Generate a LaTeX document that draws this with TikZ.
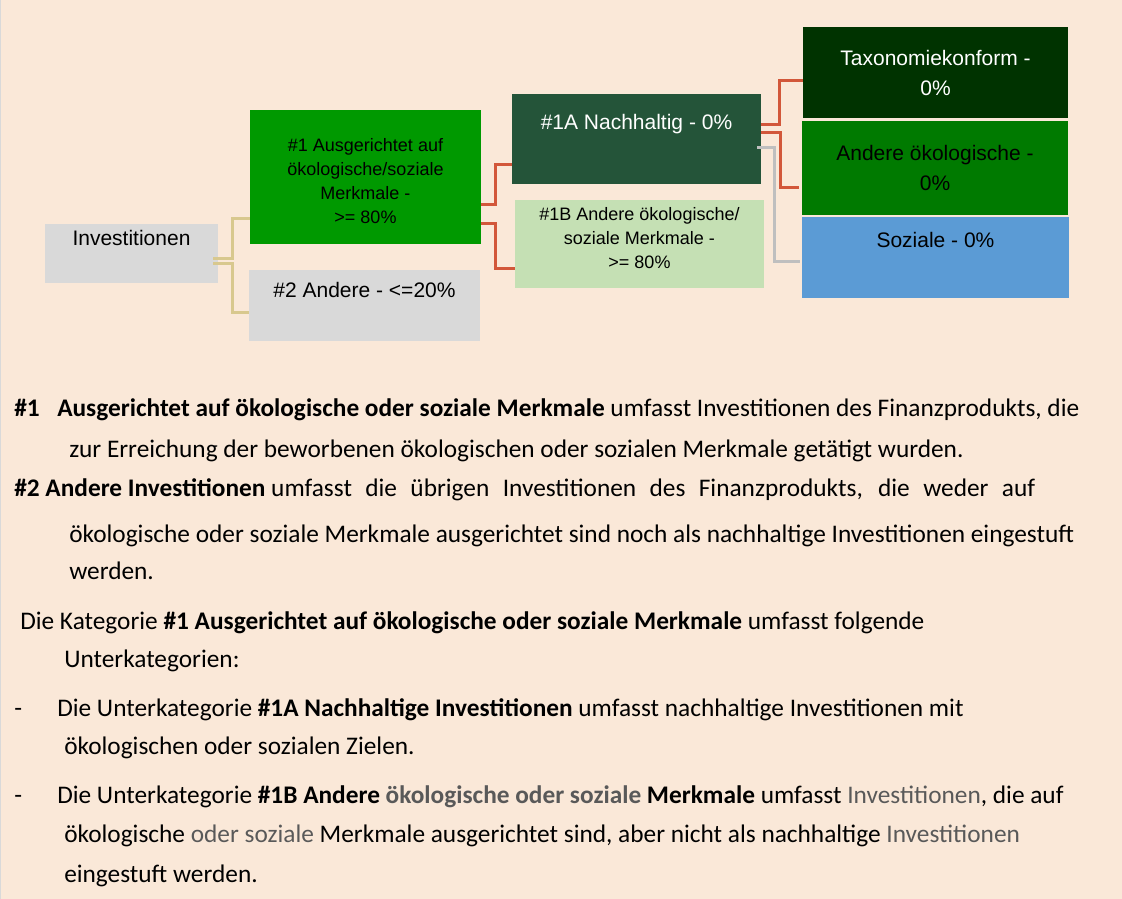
\documentclass[tikz,border=0pt]{standalone}
\usepackage{fontspec}
\setmainfont{Carlito}
\newfontfamily\arialfont{Liberation Sans}
\usepackage{xcolor}
\definecolor{paper}{HTML}{FAE8D8}
\definecolor{greybox}{HTML}{D9D9D9}
\definecolor{aligned}{HTML}{009900}
\definecolor{sustain}{HTML}{245439}
\definecolor{otherenv}{HTML}{C5E0B4}
\definecolor{taxonomy}{HTML}{003300}
\definecolor{envgreen}{HTML}{007A00}
\definecolor{social}{HTML}{5B9BD5}
\definecolor{tanlink}{HTML}{D8C88E}
\definecolor{redlink}{HTML}{D2573A}
\definecolor{greylink}{HTML}{BFBFBF}
\definecolor{greytext}{HTML}{595959}
\usetikzlibrary{calc}
\tikzset{
    box/.style 2 args={inner sep=0pt, outer sep=0pt, align=center,
        minimum width=#1*0.75pt, minimum height=#2*0.75pt},
    big/.style={font={\arialfont\fontsize{15.75pt}{22.5pt}\selectfont}, align=center},
    small/.style={font={\arialfont\fontsize{13.5pt}{18pt}\selectfont}, align=center},
    body/.style={anchor=base west, inner sep=0pt, font={\fontsize{19pt}{23pt}\selectfont}},
    link/.style={line width=2.25pt},
    }

\begin{document}
\begin{tikzpicture}
    [x=0.75pt, y=-0.75pt]
    \useasboundingbox (0,0) rectangle (1122,899);
    \fill[paper] (0,0) rectangle (1122,899);
    \draw[greybox, line width=0.75pt] (0.5,0) -- (0.5,899);
    % boxes
    \node[box={173}{59}, fill=greybox] (inv) at (131.5,253.5) {};
    \node[box={231}{134}, fill=aligned] (am) at (365.5,177) {};
    \node[box={231}{71}, fill=greybox] (other) at (364.5,305.5) {};
    \node[box={249}{90}, fill=sustain] (sust) at (636.5,139) {};
    \node[box={249}{88}, fill=otherenv] (oth1b) at (639.5,244) {};
    \node[box={265}{91}, fill=taxonomy, big, text=white] (taxo) at (935.5,72.5)
        {Taxonomiekonform -\\0\%};
    \node[box={266}{94}, fill=envgreen, big] (envo) at (935,168)
        {Andere ökologische -\\0\%};
    \node[box={267}{81}, fill=social] (soc) at (935.5,257.5) {};
    % box texts
    \node[big, anchor=base] (invtext) at (131.5,245) {Investitionen};
    \node[small] (amtext) at (365.5,181)
        {\#1 Ausgerichtet auf\\ökologische/soziale\\Merkmale -\\>= 80\%};
    \node[big, anchor=base] (othertext) at (364.5,297) {\#2 Andere - <=20\%};
    \node[big, anchor=base, text=white] (susttext) at (636.5,129) {\#1A Nachhaltig - 0\%};
    \node[small] (oth1btext) at (639.5,238) {\#1B Andere ökologische/\\soziale Merkmale -\\>= 80\%};
    \node[big, anchor=base] (soctext) at (935.5,247) {Soziale - 0\%};
    % links
    \draw[link, tanlink] ($(inv.east)+(-5,5)$) -| ($(am.west)+(-18,41)$) -- ($(am.west)+(0,41)$);
    \draw[link, tanlink] ($(inv.east)+(-5,10)$) -| ($(other.west)+(-17,6.5)$) -- ($(other.west)+(0,6.5)$);
    \draw[link, redlink] ($(am.east)+(0,27)$) -| ($(sust.west)+(-17,25)$) -- ($(sust.west)+(0,25)$);
    \draw[link, redlink] ($(am.east)+(0,46)$) -| ($(oth1b.west)+(-20,24)$) -- ($(oth1b.west)+(0,24)$);
    \draw[link, redlink] ($(sust.east)+(0,-14)$) -| ($(taxo.west)+(-24,8)$) -- ($(taxo.west)+(0,8)$);
    \draw[link, redlink] ($(sust.east)+(0,-6)$) -| ($(envo.west)+(-22,19)$) -- ($(envo.west)+(-3,19)$);
    \draw[link, greylink] ($(sust.east)+(-4,9)$) -| ($(soc.west)+(-28,3.5)$) -- ($(soc.west)+(-2,3.5)$);
    % text
    \node[body] (t1) at (14,416) {\makebox[32.25pt][l]{\textbf{\#1}}\textbf{Ausgerichtet auf ökologische oder soziale Merkmale} umfasst Investitionen des Finanzprodukts, die};
    \node[body] (t2) at (69,457) {zur Erreichung der beworbenen ökologischen oder sozialen Merkmale getätigt wurden.};
    \node[body] (t3) at (14,496) {\textbf{\#2 Andere Investitionen} \makebox[573pt][s]{umfasst die übrigen Investitionen des Finanzprodukts, die weder auf}};
    \node[body] (t4) at (69,542) {ökologische oder soziale Merkmale ausgerichtet sind noch als nachhaltige Investitionen eingestuft};
    \node[body] (t5) at (69,579) {werden.};
    \node[body] (t6) at (20,629) {Die Kategorie \textbf{\#1 Ausgerichtet auf ökologische oder soziale Merkmale} umfasst folgende};
    \node[body] (t7) at (64,667) {Unterkategorien:};
    \node[body] (d1) at (14,716) {-};
    \node[body] (t8) at (57,716) {Die Unterkategorie \textbf{\#1A Nachhaltige Investitionen} umfasst nachhaltige Investitionen mit};
    \node[body] (t9) at (64,754) {ökologischen oder sozialen Zielen.};
    \node[body] (d2) at (14,803) {-};
    \node[body] (t10) at (57,803) {Die Unterkategorie \textbf{\#1B Andere \textcolor{greytext}{ökologische oder soziale} Merkmale} umfasst \textcolor{greytext}{Investitionen}, die auf};
    \node[body] (t11) at (64,842) {ökologische \textcolor{greytext}{oder soziale} Merkmale ausgerichtet sind, aber nicht als nachhaltige \textcolor{greytext}{Investitionen}};
    \node[body] (t12) at (64,882) {eingestuft werden.};
\end{tikzpicture}
\end{document}
